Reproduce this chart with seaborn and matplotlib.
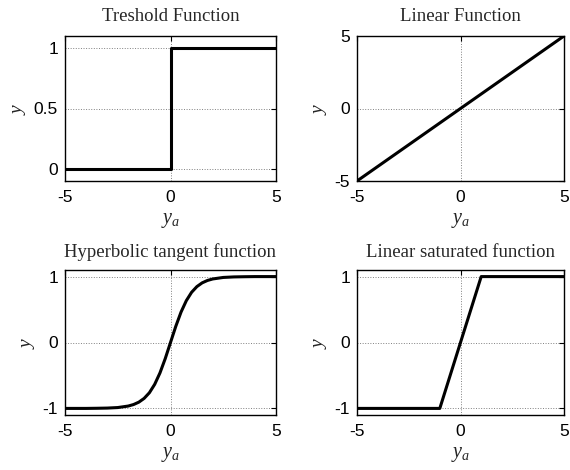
import numpy as np
import pandas as pd
import matplotlib
matplotlib.use("Agg")
import matplotlib.pyplot as plt
import seaborn as sns

# Data
thr_x = [-5, 0, 0, 5]
thr_y = [0, 0, 1, 1]

lin_x = [-5, 5]
lin_y = [-5, 5]

tanh_x = [-5, -4, -3.5, -3, -2.5, -2, -1.75, -1.5, -1.25, -1, -0.75, -0.5, -0.25, 0,
          0.25, 0.5, 0.75, 1, 1.25, 1.5, 1.75, 2, 2.5, 3, 3.5, 4, 5]
tanh_y = [-1.0, -1.0, -0.998, -0.995, -0.987, -0.964, -0.941, -0.905, -0.848, -0.762,
          -0.635, -0.462, -0.245, 0.0, 0.245, 0.462, 0.635, 0.762, 0.848, 0.905,
          0.941, 0.964, 0.987, 0.995, 0.998, 1.0, 1.0]

sat_x = [-5, -1, 1, 5]
sat_y = [-1, -1, 1, 1]

titles = ["Treshold Function", "Linear Function",
          "Hyperbolic tangent function", "Linear saturated function"]
yticks_list = [[0, 0.5, 1], [-5, 0, 5], [-1, 0, 1], [-1, 0, 1]]
yticklabels_list = [["0", "0.5", "1"], ["-5", "0", "5"], ["-1", "0", "1"], ["-1", "0", "1"]]
ylims = [(-0.1, 1.1), (-5, 5), (-1.1, 1.1), (-1.1, 1.1)]
xticks = [-5, 0, 5]

sns.set_style("white")
plt.rcParams['font.family'] = ['Liberation Sans', 'DejaVu Sans']
plt.rcParams['mathtext.fontset'] = 'custom'
plt.rcParams['mathtext.it'] = 'Liberation Serif:italic'
plt.rcParams['mathtext.rm'] = 'Liberation Serif'

W, H = 570, 470
fig = plt.figure(figsize=(W / 100, H / 100), dpi=100)

boxes = [(65, 36, 276, 181), (357, 36, 564, 181),
         (65, 270, 276, 415), (357, 270, 564, 415)]
series = [(thr_x, thr_y), (lin_x, lin_y), (tanh_x, tanh_y), (sat_x, sat_y)]
title_pads = [11, 11, 9.5, 9.5]

for i, (box, (xs, ys)) in enumerate(zip(boxes, series)):
    l, t, r, b = box
    ax = fig.add_axes([l / W, 1 - b / H, (r - l) / W, (b - t) / H])
    df = pd.DataFrame({"x": xs, "y": ys})
    sns.lineplot(data=df, x="x", y="y", ax=ax, color="black", linewidth=2.2,
                 estimator=None, sort=False)
    ax.set_xlim(-5, 5)
    ax.set_ylim(*ylims[i])
    ax.set_xticks(xticks)
    ax.set_xticklabels(["-5", "0", "5"])
    ax.set_yticks(yticks_list[i])
    ax.set_yticklabels(yticklabels_list[i])
    ax.grid(True, linestyle=":", color="#808080", linewidth=0.7)
    ax.tick_params(direction="in", top=True, right=True, length=3.5, width=0.8,
                   labelsize=12.5, colors="black", pad=5)
    ax.tick_params(axis="x", pad=6.5)
    for sp in ax.spines.values():
        sp.set_visible(True)
        sp.set_color("black")
        sp.set_linewidth(1.0)
    ax.set_title(titles[i], fontsize=13.5, family="Liberation Serif", pad=title_pads[i])
    ax.set_xlabel("$y_a$", fontsize=14.5, labelpad=4)
    ax.set_ylabel("$y$", fontsize=14, labelpad=4)

fig.savefig("out.png", dpi=100)
